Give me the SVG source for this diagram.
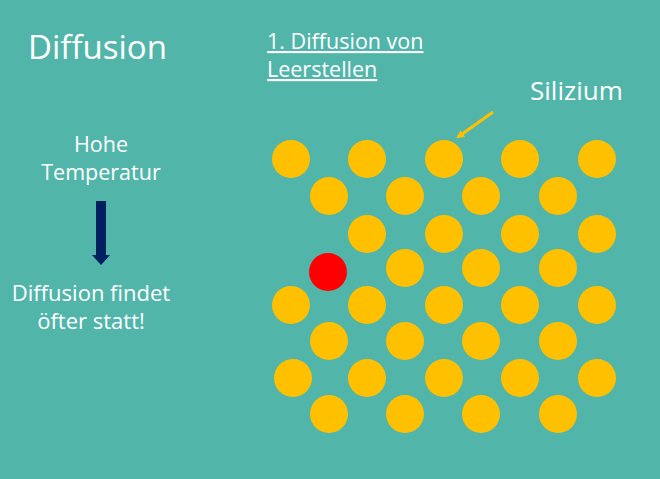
<svg xmlns="http://www.w3.org/2000/svg" width="660" height="479" viewBox="0 0 660 479">
<defs>
<style>
text{font-family:"Open Sans","Noto Sans",sans-serif;fill:#fff}
.si{fill:#FFC000}
</style>
<marker id="ah" markerWidth="8" markerHeight="8" refX="6" refY="4" orient="auto" markerUnits="userSpaceOnUse"><path d="M0,0 L8,4 L0,8 Z" fill="#FFC000"/></marker>
</defs>
<rect width="660" height="479" fill="#52B5AA"/>
<text x="28" y="59" font-size="33">Diffusion</text>
<text x="101" y="152" font-size="21.5" text-anchor="middle">Hohe</text>
<text x="101" y="180" font-size="21.5" text-anchor="middle">Temperatur</text>
<text x="91" y="301" font-size="22" text-anchor="middle">Diffusion findet</text>
<text x="91" y="329" font-size="22" text-anchor="middle">öfter statt!</text>
<text x="267" y="49" font-size="21.5" text-decoration="underline">1. Diffusion von</text>
<text x="267" y="77" font-size="21.5" text-decoration="underline">Leerstellen</text>
<text x="530" y="100" font-size="26">Silizium</text>
<g id="arrows">
<path d="M96,201 H106 V255 H110 L101,265 L92,255 H96 Z" fill="#002060"/>
<line x1="493" y1="112" x2="458" y2="137" stroke="#FFC000" stroke-width="3" marker-end="url(#ah)"/>
</g>
<g id="lattice" class="si">
<circle cx="291" cy="159" r="19"/><circle cx="367" cy="159" r="19"/><circle cx="444" cy="159" r="19"/><circle cx="520" cy="159" r="19"/><circle cx="597" cy="159" r="19"/>
<circle cx="329" cy="196" r="19"/><circle cx="405" cy="196" r="19"/><circle cx="481" cy="196" r="19"/><circle cx="558" cy="196" r="19"/>
<circle cx="367" cy="234" r="19"/><circle cx="444" cy="234" r="19"/><circle cx="520" cy="234" r="19"/><circle cx="597" cy="234" r="19"/>
<circle cx="405" cy="268" r="19"/><circle cx="481" cy="268" r="19"/><circle cx="558" cy="268" r="19"/>
<circle cx="291" cy="305" r="19"/><circle cx="367" cy="305" r="19"/><circle cx="444" cy="305" r="19"/><circle cx="520" cy="305" r="19"/><circle cx="597" cy="305" r="19"/>
<circle cx="329" cy="341" r="19"/><circle cx="405" cy="341" r="19"/><circle cx="481" cy="341" r="19"/><circle cx="558" cy="341" r="19"/>
<circle cx="293" cy="378" r="19"/><circle cx="367" cy="378" r="19"/><circle cx="444" cy="378" r="19"/><circle cx="520" cy="378" r="19"/><circle cx="597" cy="378" r="19"/>
<circle cx="329" cy="414" r="19"/><circle cx="405" cy="414" r="19"/><circle cx="481" cy="414" r="19"/><circle cx="558" cy="414" r="19"/>
</g>
<g id="red"><circle cx="328" cy="272" r="19" fill="#FF0000"/></g>
</svg>
